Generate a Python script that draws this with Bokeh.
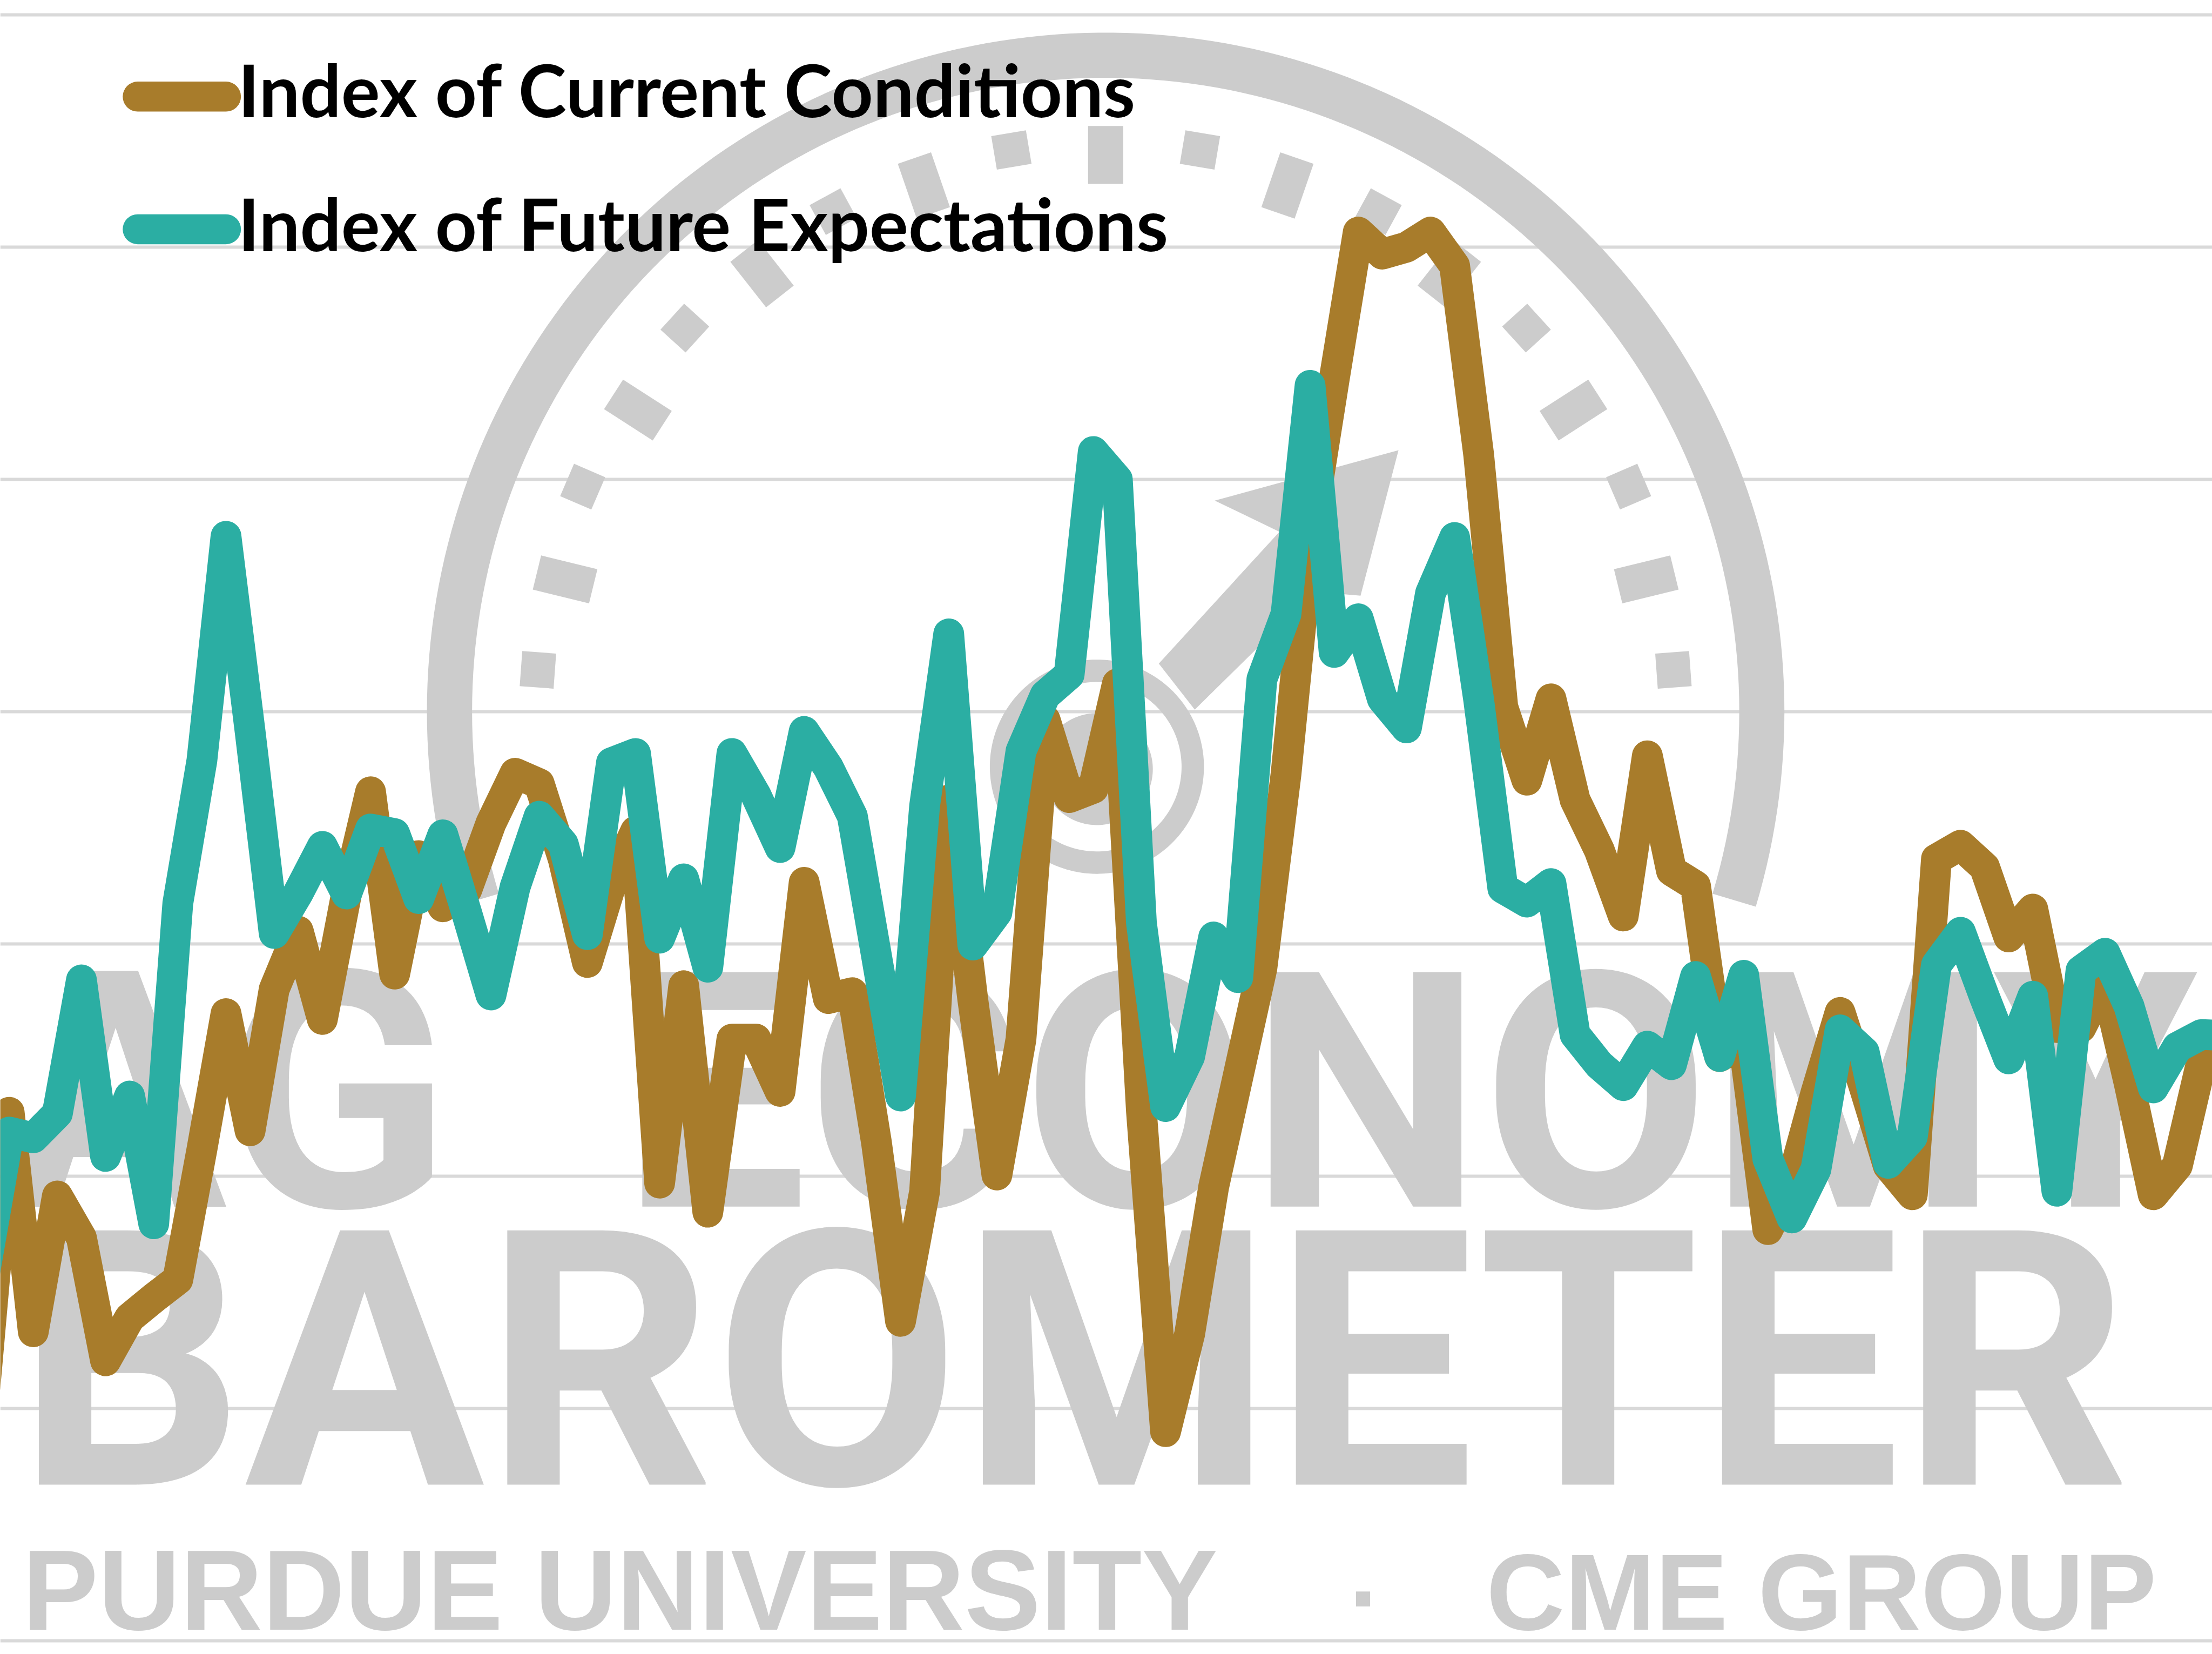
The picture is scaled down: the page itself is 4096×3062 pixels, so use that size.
import numpy as np
from bokeh.plotting import figure
from bokeh.models import Range1d, FixedTicker
from bokeh.core.properties import value
from bokeh.embed import file_html
from bokeh.resources import INLINE

# ---- data ----
series_current = "Index of Current Conditions"
series_future = "Index of Future Expectations"
months = list(range(94))
current_conditions = [
    101.9, 125.5, 106.6, 118.3, 114.7, 104.1, 107.8, 109.5, 111.1, 122.3,
    134.0, 123.9, 136.1, 141.1, 133.5, 144.3, 153.1, 137.4, 147.6, 143.2,
    144.7, 150.4, 154.7, 153.8, 147.3, 138.4, 145.2, 149.7, 119.4, 136.4,
    116.9, 131.8, 131.8, 127.3, 145.3, 135.3, 135.8, 122.9, 107.5, 118.7,
    152.4, 135.2, 120.1, 131.8, 159.3, 152.6, 153.4, 162.4, 125.6, 98.0,
    106.4, 119.1, 128.5, 137.9, 154.6, 175.5, 188.6, 201.3, 199.4, 200.0,
    201.3, 198.4, 182.1, 160.4, 154.1, 161.1, 152.4, 148.1, 142.4, 156.2,
    146.3, 145.0, 130.3, 131.5, 115.4, 119.6, 127.2, 134.1, 127.7, 120.9,
    118.4, 147.3, 148.5, 146.6, 140.6, 143.0, 132.8, 132.8, 136.9, 128.0,
    118.4, 120.9, 129.8, 131.1,
]
future_expectations = [
    111.9, 123.8, 123.3, 125.4, 136.9, 121.7, 126.9, 115.9, 143.5, 155.8,
    175.1, 158.3, 140.9, 144.4, 148.4, 144.3, 149.9, 149.5, 143.9, 149.4,
    142.6, 135.6, 144.9, 151.0, 148.6, 140.8, 155.6, 156.4, 140.5, 145.6,
    138.0, 156.4, 152.8, 148.3, 158.3, 155.2, 151.0, 139.0, 126.9, 151.9,
    166.7, 139.9, 142.7, 156.6, 161.4, 163.2, 182.4, 180.0, 141.8, 126.0,
    130.3, 140.6, 137.1, 162.8, 168.4, 188.1, 165.1, 168.0, 161.1, 158.6,
    170.2, 175.0, 161.0, 144.8, 143.6, 145.2, 132.2, 129.6, 127.8, 131.2,
    129.6, 137.2, 130.3, 137.3, 121.5, 116.4, 120.6, 132.6, 130.7, 121.1,
    123.4, 138.2, 141.0, 135.4, 130.1, 135.5, 118.7, 137.7, 139.2, 134.6,
    127.6, 131.1, 132.2, 132.1,
]
grid_values = [80, 100, 120, 140, 160, 180, 200, 220]
watermark_big = ["AG", "ECONOMY", "BAROMETER"]
watermark_small = ["PURDUE UNIVERSITY", "·", "CME GROUP"]

# ---- colours / scale ----
BROWN = "#A87C2B"
TEAL = "#2BAEA3"
GREY = "#CCCCCC"
GRID = "#D9D9D9"
K = 4096 / 5537  # window pixels per reference pixel

W, H = 4096, 3062
p = figure(width=W, height=H, output_backend="svg", toolbar_location=None,
           x_range=Range1d(0.63, 92.45), y_range=Range1d(78.83, 221.26),
           min_border=0, min_border_left=0, min_border_right=0,
           min_border_top=0, min_border_bottom=0,
           background_fill_color="white", outline_line_color=None)
p.axis.visible = False
p.xgrid.visible = False
p.ygrid.ticker = FixedTicker(ticks=grid_values)
p.ygrid.grid_line_color = GRID
p.ygrid.grid_line_width = 8 * K

# Logo and legend are placed in the reference's own pixel frame
p.extra_x_ranges = {"ref": Range1d(0, 5537)}
p.extra_y_ranges = {"ref": Range1d(4139, 0)}
REF = dict(x_range_name="ref", y_range_name="ref")


def arc(cx, cy, r, a0, a1, n=180):
    t = np.radians(np.linspace(a0, a1, n))
    return cx + r * np.cos(t), cy - r * np.sin(t)


def box(cx, cy, ang, length, width):
    t = np.radians(ang)
    ux, uy = np.cos(t), -np.sin(t)
    vx, vy = -uy, ux
    xs = [cx + s * ux * length / 2 + q * vx * width / 2 for s, q in ((1, 1), (1, -1), (-1, -1), (-1, 1))]
    ys = [cy + s * uy * length / 2 + q * vy * width / 2 for s, q in ((1, 1), (1, -1), (-1, -1), (-1, 1))]
    return xs, ys


def shape(xs, ys):
    p.patch(list(xs), list(ys), fill_color=GREY, line_color=None, **REF)


# gauge ring
CX, CY = 2767, 1780
xo, yo = arc(CX, CY, 1699, -16.7, 196.7)
xi, yi = arc(CX, CY, 1586, 196.7, -16.7)
shape(np.r_[xo, xi], np.r_[yo, yi])

# gauge ticks
for k in range(19):
    ang = 175.8 - k * (171.6 / 18)
    long_tick = k % 2 == 1
    r = 1393 if long_tick else 1425
    xs, ys = box(CX + r * np.cos(np.radians(ang)), CY - r * np.sin(np.radians(ang)), ang,
                 145 if long_tick else 85, 88)
    shape(xs, ys)

# needle
shape([3500, 3040, 3202, 2900, 2990, 3290, 3405], [1126, 1252, 1330, 1660, 1775, 1480, 1490])
xo, yo = arc(2745, 1918, 268, 0, 360)
xi, yi = arc(2745, 1918, 212, 360, 0)
shape(np.r_[xo, xi], np.r_[yo, yi])
xo, yo = arc(2745, 1924, 140, 0, 360)
shape(xo, yo)

# the svg text sits about this many ems below the requested baseline
DROP = {"Liberation Sans": 0.3465, "Roboto": 0.342, "Lato": 0.39}


def label(x, base, txt, size, color=GREY, font="Liberation Sans", align="left"):
    p.text(x=[x], y=[base - DROP[font] * size], text=[txt], text_font=value(font),
           text_font_style="bold", text_font_size=value(f"{size * K:.1f}px"), text_color=color,
           text_align=align, text_baseline="alphabetic", **REF)


label(10, 3019, watermark_big[0], 830, font="Roboto")
label(1555, 3019, watermark_big[1], 825, font="Roboto")
label(40, 3715, watermark_big[2], 895, font="Roboto")
label(55, 4078, watermark_small[0], 285)
label(3418, 4085, watermark_small[1], 250, align="center")
label(3720, 4078, watermark_small[2], 272)

# series
x = months
for ys, col in ((current_conditions, BROWN), (future_expectations, TEAL)):
    p.line(x, ys, line_color=col, line_width=77 * K, line_join="round", line_cap="round")

# legend
for ly, col, txt, base in ((241, BROWN, series_current, 293), (573, TEAL, series_future, 628)):
    p.line([344, 565], [ly, ly], line_color=col, line_width=75 * K, line_cap="round", **REF)
    label(595, base, txt, 182, color="#000000", font="Lato")

open("out.html", "w").write(file_html(p, INLINE))
